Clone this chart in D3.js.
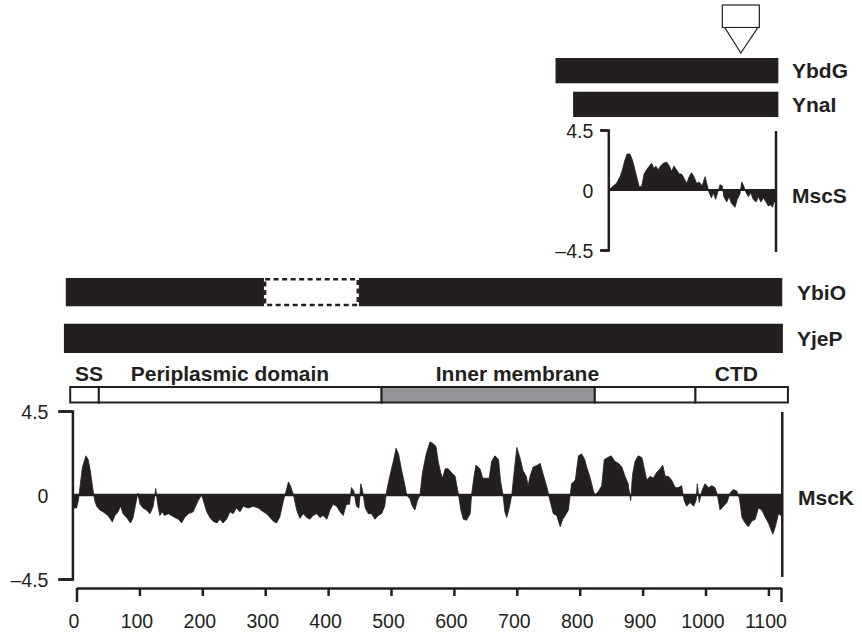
<!DOCTYPE html>
<html lang="en">
  <head>
    <meta charset="utf-8">
    <title>MscS / MscK hydropathy</title>
    <script src="https://d3js.org/d3.v7.min.js"></script>
    <style>
      body {
        margin: 0;
        background-color: white;
      }
      svg {
        background-color: white;
        font-family: "Liberation Sans", Arial, Helvetica, sans-serif;
      }
      .lbl {
        font-weight: bold;
        font-size: 21px;
        fill: #231f20;
      }
      .tick text {
        font-size: 19.5px;
        fill: #231f20;
        font-family: "Liberation Sans", Arial, Helvetica, sans-serif;
      }
    </style>
  </head>
  <body>
    <script>
      var w = 862;
      var h = 635;
      var ink = "#231f20";

      // MscS-aligned bars (residues in MscS numbering, aligned at C-terminus)
      var topBars = [
        { name: "YbdG", start: -90, end: 290 },
        { name: "YnaI", start: -60, end: 290 }
      ];
      var markerAt = 226;

      // MscS hydropathy, [residue, value]
      var msc_s = [[0,0],[3,0.1],[8.5,0.3],[14,0.5],[20,1.0],[24,1.5],[28,2.2],[32,2.7],[37,2.7],[41.5,2.2],[45.5,1.5],
        [49.5,0.8],[53,0.2],[57,0.3],[61,1.2],[65,1.5],[70,1.8],[74,2.0],[78,1.6],[81,1.8],[85,1.5],[89,1.8],
        [94,2.0],[99.5,2.1],[104,1.8],[108,1.4],[112,1.8],[116.5,1.5],[121,1.2],[125,1.2],[129,0.9],[133.5,0.5],
        [138,1.0],[142,1.3],[146,1.0],[150.5,0.5],[155,0.6],[160,0.3],[165,1.0],[169,0.3],[172,-0.2],[176,-0.6],
        [179,-0.2],[183,-0.7],[186.5,-0.2],[190.5,0.4],[194.5,0.3],[197,-0.5],[202,-0.9],[206,-0.5],[210,-1.0],
        [216,-1.3],[220,-0.7],[224.5,-0.3],[227.5,0.6],[230,0.4],[235,-0.2],[239,-0.5],[243,-0.2],[247,-0.7],
        [252,-0.9],[256,-0.5],[260,-0.9],[264.5,-0.6],[269,-0.9],[273,-1.2],[277,-1.1],[280,-1.3],[282.5,-0.9],[286,-0.9]];

      // MscK-aligned bars
      var ybiO = [{ start: -17, end: 298 }, { start: 449, end: 1122 }];
      var ybiOGap = { start: 298, end: 449 };
      var yjeP = { start: -20, end: 1123 };

      var domains = [
        { start: -10, end: 35.5, grey: false },
        { start: 35.5, end: 485, grey: false },
        { start: 485, end: 824, grey: true },
        { start: 824, end: 984, grey: false },
        { start: 984, end: 1131, grey: false }
      ];
      var domainLabels = [
        { text: "SS", at: 20 },
        { text: "Periplasmic domain", at: 244 },
        { text: "Inner membrane", at: 701 },
        { text: "CTD", at: 1049 }
      ];

      // MscK hydropathy, [residue, value]
      var msc_k = [[-6,0],[-4,-0.7],[0,-0.7],[3,-0.3],[5,0.3],[9.5,1.5],[15,2.1],[18.5,1.9],[22,1.3],[26.5,0.2],[29,-0.3],
        [32,-0.6],[37,-0.8],[42,-0.9],[50,-1.1],[57,-1.45],[61,-1.1],[66,-0.9],[70,-0.6],[74,-1.0],[79.5,-1.2],
        [86,-1.5],[90,-1.2],[94,-0.5],[97.5,0.1],[101,-0.5],[106,-0.7],[111,-0.8],[117,-1.0],[122,-0.6],[126,0.35],
        [129,-0.5],[132.5,-1.1],[136,-0.9],[140,-1.1],[146,-1.0],[151,-1.1],[156,-1.2],[162,-1.3],[167,-1.5],
        [172,-1.2],[178,-1.0],[185.5,-0.9],[193.5,-0.3],[199,0],[202.5,-0.4],[207,-0.9],[212,-1.2],[217,-1.4],
        [223,-1.5],[228,-1.3],[233,-1.5],[238.5,-1.3],[244,-0.9],[249,-1.0],[254,-0.7],[260,-0.9],[265,-0.6],
        [273,-0.7],[281,-0.6],[289,-0.7],[297,-0.9],[302,-1.0],[307.5,-1.2],[313,-1.4],[318,-1.5],[323,-1.2],
        [329,-0.3],[333,0.2],[337,0.7],[340,0.5],[345,0],[350,-0.8],[355,-1.25],[360.5,-1.0],[366,-1.2],[371,-1.3],
        [376,-1.1],[382,-1.0],[387,-1.2],[392,-1.1],[398,-1.3],[403,-0.8],[408,-0.5],[413.5,-0.6],[419,-0.9],
        [424,-1.1],[429,-0.5],[434,-0.5],[437,0.4],[441,0.2],[445,-0.6],[449,-0.7],[452,0.6],[455,0.2],[459,-0.7],
        [464,-1.0],[469,-1.0],[474.5,-1.3],[480,-1.1],[485,-1.0],[490,-0.6],[493,0.2],[498,1.0],[504,1.85],
        [508,2.5],[512,2.2],[517,1.3],[521,0.7],[525,0],[530,-0.2],[534,-0.6],[538,-0.8],[542,-0.3],[546,0],
        [550,1.2],[556,2.2],[562,2.85],[567,2.75],[571.5,2.6],[575,1.8],[579,1.2],[582,0.9],[586,1.4],[591,1.4],
        [596,1.2],[602,1.0],[604,0.6],[607,0.1],[611,-0.8],[615,-1.3],[620,-1.35],[626,-1.0],[628,0],[632,1.0],
        [635,1.6],[641.5,1.4],[646,0.9],[652,0.9],[656,0.9],[660,1.8],[665,2.1],[671,1.9],[674,0.8],[678,0],
        [681,-0.9],[684,-1.2],[688,-0.7],[692,0],[696,1.3],[700,2.55],[705,2.0],[710,1.3],[715,1.0],[718,0.5],
        [721,1.0],[726,1.5],[733,1.6],[737,1.7],[742,1.1],[748,0.4],[752,-0.2],[758,-1.0],[763.5,-1.1],[769,-1.7],
        [773,-1.3],[777,-1.1],[782,-0.8],[787,0.6],[793,0.8],[798,2.1],[803,2.2],[808,1.9],[811,1.5],[816,1.0],
        [822,0.2],[824,0],[830,0.2],[835,0.5],[839,1.9],[844,2.0],[850,2.1],[856,1.8],[861.5,1.7],[867,1.5],
        [872,1.0],[877,0.6],[881,-0.3],[884,1.1],[888,1.8],[893,2.1],[899,2.0],[904,1.2],[906.5,0.8],[912,1.0],
        [917,0.9],[922,1.2],[928,1.4],[932,1.6],[936,1.0],[941,1.0],[946,0.8],[952,0.4],[957,0.4],[962,0.5],
        [966,-0.3],[970,-0.6],[975.5,-0.4],[981,-0.6],[985,-0.3],[987,0.6],[990,-0.4],[994,0.2],[999,0.6],
        [1005,0.4],[1010,0.5],[1015,0.4],[1019,0],[1023,-0.8],[1028.5,-0.6],[1034,-0.4],[1039,0.1],[1044,0.3],
        [1050,0.2],[1054,-0.2],[1058,-1.2],[1063,-1.5],[1068,-1.7],[1073.5,-1.4],[1079,-1.3],[1084,-0.7],
        [1089.5,-0.8],[1095,-1.2],[1100,-1.5],[1107,-2.1],[1111,-1.7],[1116,-1.0],[1120,-1.1],[1121,0]];

      var xTicks = d3.range(0, 1101, 100);
      var yTicks = [-4.5, 0, 4.5];

      var svg = d3.select("body").append("svg").attr("width", w).attr("height", h);

      var fmtY = function(d) { return d < 0 ? "\u2013" + (-d) : String(d); };

      // ---------- top panel (MscS) ----------
      var sX = d3.scaleLinear().domain([0, 286]).range([608.3, 776]);
      var sY = d3.scaleLinear().domain([-4.5, 4.5]).range([250, 130]);
      var topBand = d3.scaleBand().domain(topBars.map(d => d.name)).range([58, 117]).paddingInner(0.25);

      svg.selectAll("rect.topbar").data(topBars).enter().append("rect")
        .attr("class", "topbar")
        .attr("x", d => sX(d.start))
        .attr("width", d => sX(d.end) - sX(d.start))
        .attr("y", d => topBand(d.name))
        .attr("height", topBand.bandwidth())
        .attr("fill", ink);

      svg.selectAll("text.toplbl").data(topBars).enter().append("text")
        .attr("class", "lbl")
        .attr("x", 792)
        .attr("y", d => topBand(d.name) + topBand.bandwidth() / 2)
        .attr("dy", "0.36em")
        .text(d => d.name);

      // insertion marker
      var mx = sX(markerAt);
      svg.append("rect").attr("x", mx - 18.5).attr("y", 5).attr("width", 37).attr("height", 22.5)
        .attr("fill", "white").attr("stroke", ink).attr("stroke-width", 1.2);
      svg.append("path")
        .attr("d", d3.line()([[mx - 16, 27.5], [mx + 17, 27.5], [mx, 53]]) + "Z")
        .attr("fill", "white").attr("stroke", ink).attr("stroke-width", 1.2);

      svg.append("path").datum(msc_s)
        .attr("d", d3.area().x(d => sX(d[0])).y0(sY(0)).y1(d => sY(d[1])))
        .attr("fill", ink).attr("stroke", ink).attr("stroke-width", 0.8);

      svg.append("line").attr("x1", sX(0)).attr("x2", sX(286)).attr("y1", sY(0)).attr("y2", sY(0))
        .attr("stroke", ink).attr("stroke-width", 2);
      svg.append("line").attr("x1", sX(286)).attr("x2", sX(286)).attr("y1", 131).attr("y2", 252)
        .attr("stroke", ink).attr("stroke-width", 2.5);

      var sAxis = svg.append("g").attr("transform", "translate(" + sX(0) + ",0)")
        .call(d3.axisLeft(sY).tickValues(yTicks).tickSize(8).tickPadding(7).tickFormat(fmtY));
      sAxis.select(".domain").attr("stroke", ink).attr("stroke-width", 2.5);
      sAxis.selectAll(".tick line").attr("stroke", ink).attr("stroke-width", 2.5)
        .filter(d => d === 0).remove();
      sAxis.selectAll(".tick text").attr("dy", "0.36em");

      svg.append("text").attr("class", "lbl").attr("x", 792).attr("y", 195).attr("dy", "0.36em").text("MscS");

      // ---------- lower panel (MscK) ----------
      var kX = d3.scaleLinear().domain([0, 1120]).range([76.5, 781]);
      var kY = d3.scaleLinear().domain([-4.5, 4.5]).range([579, 411]);
      var barBand = d3.scaleBand().domain(["YbiO", "YjeP"]).range([278, 353]).paddingInner(0.36);

      svg.selectAll("rect.ybio").data(ybiO).enter().append("rect")
        .attr("x", d => kX(d.start))
        .attr("width", d => kX(d.end) - kX(d.start))
        .attr("y", barBand("YbiO"))
        .attr("height", barBand.bandwidth() - 1)
        .attr("fill", ink);
      svg.append("rect")
        .attr("x", kX(ybiOGap.start) + 1.2)
        .attr("width", kX(ybiOGap.end) - kX(ybiOGap.start) - 2.4)
        .attr("y", barBand("YbiO") + 1.2)
        .attr("height", barBand.bandwidth() - 3.4)
        .attr("fill", "white").attr("stroke", ink).attr("stroke-width", 2.4)
        .attr("stroke-dasharray", "5,3.5");
      svg.append("rect")
        .attr("x", kX(yjeP.start))
        .attr("width", kX(yjeP.end) - kX(yjeP.start))
        .attr("y", barBand("YjeP"))
        .attr("height", barBand.bandwidth())
        .attr("fill", ink);

      svg.append("text").attr("class", "lbl").attr("x", 797)
        .attr("y", barBand("YbiO") + barBand.bandwidth() / 2).attr("dy", "0.36em").text("YbiO");
      svg.append("text").attr("class", "lbl").attr("x", 797)
        .attr("y", barBand("YjeP") + barBand.bandwidth() / 2).attr("dy", "0.36em").text("YjeP");

      // domain bar
      svg.selectAll("rect.dom").data(domains).enter().append("rect")
        .attr("x", d => kX(d.start))
        .attr("width", d => kX(d.end) - kX(d.start))
        .attr("y", 387)
        .attr("height", 15.5)
        .attr("fill", d => d.grey ? "#939598" : "white")
        .attr("stroke", ink).attr("stroke-width", 2);

      svg.selectAll("text.dom").data(domainLabels).enter().append("text")
        .attr("class", "lbl")
        .attr("x", d => kX(d.at))
        .attr("y", 381)
        .attr("text-anchor", "middle")
        .text(d => d.text);

      // profile
      svg.append("path").datum(msc_k)
        .attr("d", d3.area().x(d => kX(d[0])).y0(kY(0)).y1(d => kY(d[1])))
        .attr("fill", ink).attr("stroke", ink).attr("stroke-width", 0.8);

      svg.append("line").attr("x1", kX(-6.5)).attr("x2", kX(1122)).attr("y1", kY(0)).attr("y2", kY(0))
        .attr("stroke", ink).attr("stroke-width", 2.5);
      svg.append("line").attr("x1", kX(1122)).attr("x2", kX(1122)).attr("y1", 412).attr("y2", 577)
        .attr("stroke", ink).attr("stroke-width", 2.5);

      var kAxisY = svg.append("g").attr("transform", "translate(" + kX(-6.5) + ",0)")
        .call(d3.axisLeft(kY).tickValues(yTicks).tickSize(14).tickPadding(10).tickFormat(fmtY));
      kAxisY.select(".domain").attr("stroke", ink).attr("stroke-width", 2.5);
      kAxisY.selectAll(".tick line").attr("stroke", ink).attr("stroke-width", 2.5)
        .filter(d => d === 0).remove();
      kAxisY.selectAll(".tick text").attr("dy", "0.36em");

      svg.append("text").attr("class", "lbl").attr("x", 798).attr("y", 497).attr("dy", "0.36em").text("MscK");

      var kAxisX = svg.append("g").attr("transform", "translate(0,588)")
        .call(d3.axisBottom(kX).tickValues(xTicks.concat([1120])).tickSize(8).tickSizeOuter(0).tickPadding(25)
          .tickFormat(d => d === 1120 ? "" : d));
      kAxisX.select(".domain").attr("stroke", ink).attr("stroke-width", 2.5);
      kAxisX.selectAll(".tick line").attr("stroke", ink).attr("stroke-width", 2.5)
        .filter(d => d === 0 || d === 1120).attr("y2", 14);
      kAxisX.selectAll(".tick text").attr("dx", -3).attr("dy", "0.36em");
    </script>
  </body>
</html>
